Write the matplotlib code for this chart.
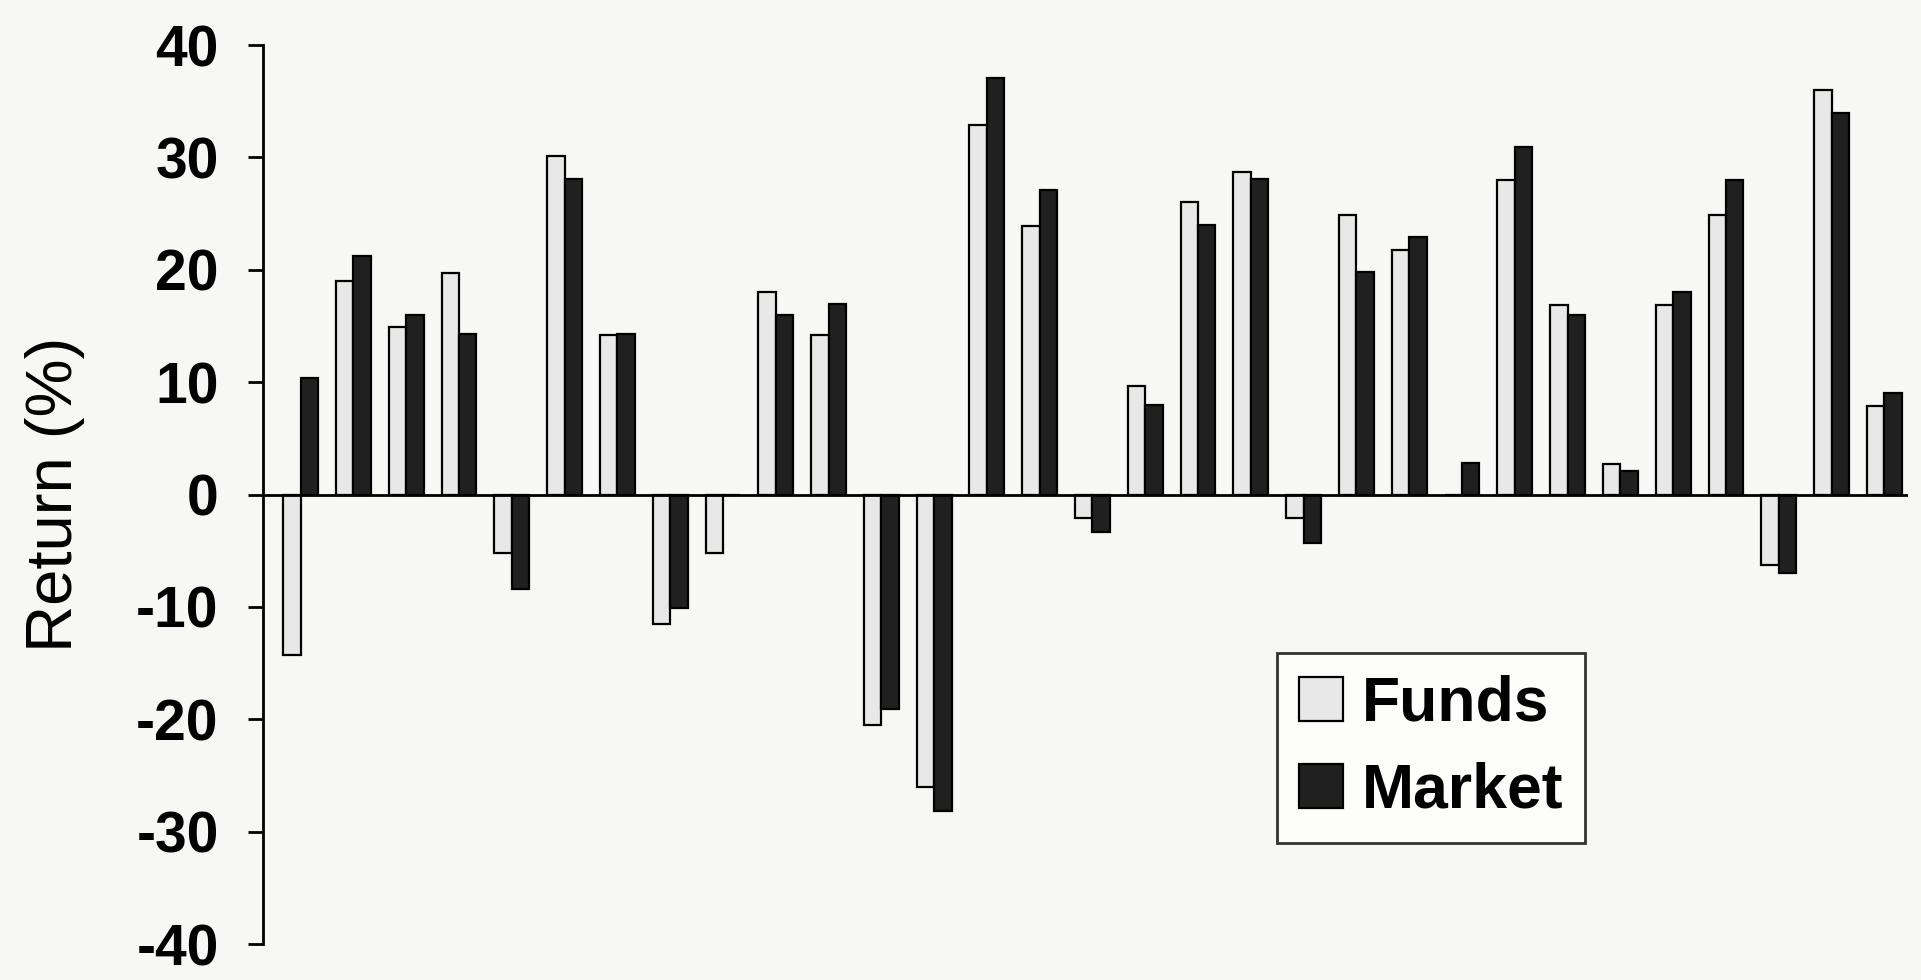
import numpy as np
import matplotlib.pyplot as plt

# returns per period (%)
funds = [-14.3, 19.0, 14.9, 19.7, -5.2, 30.1, 14.2, -11.5, -5.2, 18.0,
         14.2, -20.5, -26.0, 32.9, 23.9, -2.1, 9.7, 26.0, 28.7, -2.1,
         24.9, 21.8, 0.0, 28.0, 16.9, 2.7, 16.9, 24.9, -6.3, 36.0, 7.9]
market = [10.4, 21.2, 16.0, 14.3, -8.4, 28.1, 14.3, -10.1, 0.0, 16.0,
          17.0, -19.1, -28.2, 37.1, 27.1, -3.3, 8.0, 24.0, 28.1, -4.3,
          19.8, 22.9, 2.8, 30.9, 16.0, 2.1, 18.0, 28.0, -7.0, 34.0, 9.0]
yticks = [-40, -30, -20, -10, 0, 10, 20, 30, 40]

plt.rcParams['font.family'] = ['Liberation Sans', 'DejaVu Sans']

fig = plt.figure(figsize=(19.21, 9.8), dpi=100)
fig.patch.set_facecolor('#f7f7f5')
ax = fig.add_axes([0.137, 0.0367, 0.856, 0.9173])
ax.set_facecolor('none')

x = np.arange(len(funds))
w = 0.33
ax.bar(x - w / 2, funds, w, color='#e8e8e8', edgecolor='black', linewidth=1.6, label='Funds')
ax.bar(x + w / 2, market, w, color='#202020', edgecolor='black', linewidth=1.6, label='Market')
ax.axhline(0, color='black', linewidth=2)

ax.set_xlim(-0.71, 30.44)
ax.set_ylim(-40, 40)
ax.set_yticks(yticks)
ax.set_yticklabels([str(t) for t in yticks], fontsize=41, fontweight='bold')
ax.tick_params(axis='y', length=11, width=2, pad=21)
ax.set_xticks([])
for s in ['top', 'right', 'bottom']:
    ax.spines[s].set_visible(False)
ax.spines['left'].set_linewidth(2)
ax.set_ylabel('Return (%)', fontsize=47, labelpad=37)

leg = ax.legend(loc='upper left', bbox_to_anchor=(0.665, 0.334), bbox_transform=fig.transFigure,
                prop={'size': 45, 'weight': 'bold'}, frameon=True, fancybox=False,
                borderaxespad=0, handlelength=0.7, handleheight=0.7, handletextpad=0.3,
                borderpad=0.35, labelspacing=0.45)
leg.get_frame().set_edgecolor('black')
leg.get_frame().set_linewidth(2)
leg.get_frame().set_facecolor('white')

fig.savefig('out.png', dpi=100, facecolor=fig.get_facecolor())
